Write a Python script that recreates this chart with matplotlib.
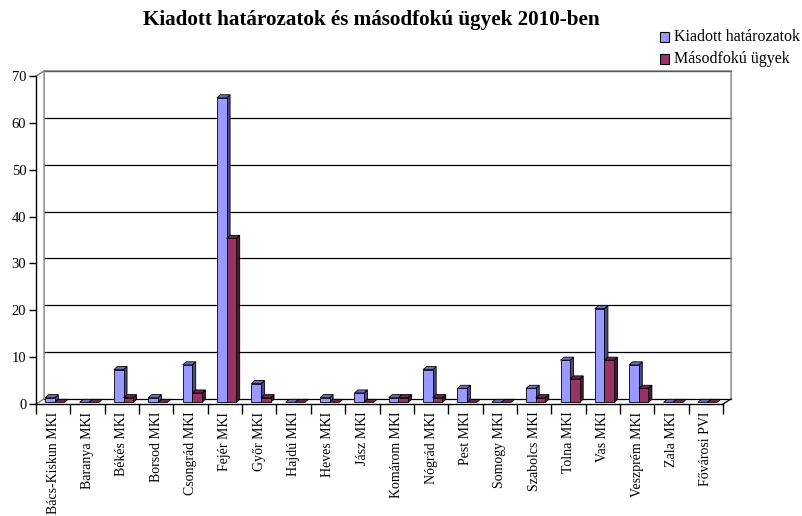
import matplotlib
matplotlib.use("Agg")
import numpy as np
from matplotlib import pyplot as plt
from matplotlib.patches import Polygon, Rectangle

plt.rcParams['font.family'] = ['Liberation Serif', 'DejaVu Serif']

# adatok
categories = ['Bács-Kiskun MKI', 'Baranya MKI', 'Békés MKI', 'Borsod MKI', 'Csongrád MKI',
              'Fejér MKI', 'Győr MKI', 'Hajdú MKI', 'Heves MKI', 'Jász MKI',
              'Komárom MKI', 'Nógrád MKI', 'Pest MKI', 'Somogy MKI', 'Szabolcs MKI',
              'Tolna MKI', 'Vas MKI', 'Veszprém MKI', 'Zala MKI', 'Fővárosi PVI']
kiadott = [1, 0, 7, 1, 8, 65, 4, 0, 1, 2, 1, 7, 3, 0, 3, 9, 20, 8, 0, 0]
masodfoku = [0, 0, 1, 0, 2, 35, 1, 0, 0, 0, 1, 1, 0, 0, 1, 5, 9, 3, 0, 0]
series_names = ['Kiadott határozatok', 'Másodfokú ügyek']
title = 'Kiadott határozatok és másodfokú ügyek 2010-ben'

# szinek: elolap, oldallap, teto
blue = ('#9999FF', '#4A4A8C', '#6E6EC0')
red = ('#993366', '#4A1830', '#70264B')

W, H = 802, 516
fig = plt.figure(figsize=(W / 100, H / 100), dpi=100)
ax = fig.add_axes([36 / W, 112 / H, 687 / W, 328 / H])
n = len(categories)
ax.set_xlim(0, n)
ax.set_ylim(0, 70)

# 3D eltolas (fal melysege)
dx, dy = 0.235, 1.07
# oszlop melysege
bdx, bdy = 0.1, 0.65
base = 0.35
bw = 0.28

# hatso fal, racsvonalak
for v in range(0, 71, 10):
    ax.plot([dx, n + dx], [v + dy, v + dy], color='black', lw=0.9, clip_on=False, zorder=1)
gray = '#808080'
ax.plot([0, dx, dx], [0, dy, 70 + dy], color=gray, lw=1, clip_on=False, zorder=1)
ax.plot([0, dx, n + dx, n + dx], [70, 70 + dy, 70 + dy, dy], color=gray, lw=1, clip_on=False, zorder=1)
ax.plot([n, n + dx], [0, dy], color='black', lw=0.9, clip_on=False, zorder=1)


def bar3d(x0, v, cols):
    front = [(x0, base), (x0 + bw, base), (x0 + bw, base + v), (x0, base + v)]
    side = [(x0 + bw, base), (x0 + bw + bdx, base + bdy),
            (x0 + bw + bdx, base + v + bdy), (x0 + bw, base + v)]
    top = [(x0, base + v), (x0 + bw, base + v),
           (x0 + bw + bdx, base + v + bdy), (x0 + bdx, base + v + bdy)]
    for pts, c in ((side, cols[1]), (top, cols[2]), (front, cols[0])):
        if v == 0 and c != cols[2]:
            continue
        ax.add_patch(Polygon(pts, closed=True, facecolor=c, edgecolor='black',
                             lw=0.6, clip_on=False, zorder=3))


for i in range(n):
    bar3d(i + 0.27, kiadott[i], blue)
    bar3d(i + 0.55, masodfoku[i], red)

for s in ('top', 'right'):
    ax.spines[s].set_visible(False)
ax.spines['left'].set_linewidth(1)
ax.spines['bottom'].set_linewidth(1)
ax.set_facecolor('none')

ax.set_yticks(range(0, 71, 10))
ax.tick_params(axis='y', length=5, width=1, pad=2, labelsize=10.5)
ax.set_xticks(np.arange(0, n + 1))
ax.set_xticklabels([])
ax.tick_params(axis='x', which='major', length=7, width=1)
ax.set_xticks(np.arange(n) + 0.5, minor=True)
ax.set_xticklabels(categories, minor=True, rotation=90, fontsize=10, va='top', ha='center')
ax.tick_params(axis='x', which='minor', length=0, pad=5.5)

fig.text(371 / W, 1 - 20 / H, title, ha='center', va='center', fontsize=15.2, fontweight='bold')

# jelmagyarazat
for k, (name, cols) in enumerate(zip(series_names, (blue, red))):
    yc = 37 + 22 * k
    fig.add_artist(Rectangle((660 / W, 1 - (yc + 4.5) / H), 9 / W, 9 / H,
                             transform=fig.transFigure, facecolor=cols[0],
                             edgecolor='black', lw=0.8))
    fig.text(674 / W, 1 - yc / H, name, ha='left', va='center', fontsize=11.5)

fig.savefig('out.png', dpi=100)
